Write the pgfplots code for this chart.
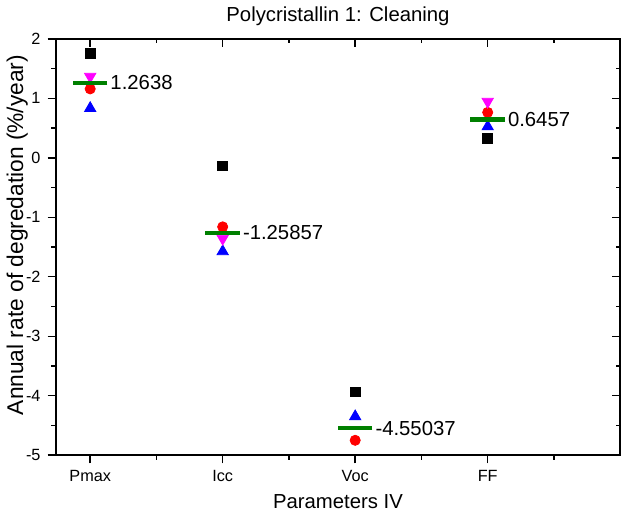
\documentclass[border=0pt]{standalone}
\usepackage{fontspec}
\setmainfont{Liberation Sans}
\usepackage{pgfplots}
\pgfplotsset{compat=1.18}

\definecolor{ogreen}{RGB}{0,128,0}
\definecolor{omag}{RGB}{255,0,255}
\definecolor{ored}{RGB}{255,0,0}
\definecolor{oblue}{RGB}{0,0,255}

\pgfplotsset{
  frame/.style={
    width=278pt, height=205pt, scale only axis,
    xmin=0.74, xmax=5, ymin=-5, ymax=2,
    xtick={1,2,3,4}, minor xtick={1.5,2.5,3.5,4.5},
    ytick={-5,...,2}, minor ytick={-4.5,-3.5,...,1.5},
    major tick length=4pt, minor tick length=2.2pt,
    every tick/.style={black, line width=0.7pt},
    axis line style={line width=0.8pt},
  },
}

\begin{document}
\begin{tikzpicture}
\begin{axis}[
  frame,
  tick align=outside,
  xtick pos=left, ytick pos=left,
  xticklabels={Pmax,Icc,Voc,FF},
  /pgf/number format/assume math mode=true,
  ticklabel style={font=\fontsize{8}{9.6}\selectfont},
  title={Polycristallin 1: Cleaning},
  title style={font=\fontsize{10}{12}\selectfont, at={(axis description cs:0.5,1)}, anchor=south, yshift=-3pt},
  xlabel={Parameters IV},
  xlabel style={font=\fontsize{10}{12}\selectfont, at={(axis description cs:0.5,0)}, anchor=center, yshift=-23pt},
  ylabel={Annual rate of degredation (\%/year)},
  ylabel style={font=\fontsize{11.2}{13}\selectfont, at={(axis description cs:-0.068,0.529)}, anchor=center, rotate=0},
  clip=false,
]
% sample 1
\addplot[only marks, mark=square*, mark size=2.4pt, black] coordinates {
  (1,1.756) (2,-0.134) (3,-3.936) (4,0.322)
};
% sample 2
\addplot[only marks, mark=*, mark size=2.5pt, ored] coordinates {
  (1,1.160) (2,-1.160) (3,-4.750) (4,0.765)
};
% sample 3
\addplot[only marks, mark=triangle*, mark size=3.2pt, oblue] coordinates {
  (1,0.834) (2,-1.574) (3,-4.350) (4,0.526)
};
% sample 4
\addplot[only marks, mark=triangle*, mark size=3.2pt, omag, mark options={rotate=180}] coordinates {
  (1,1.367) (2,-1.357) (4,0.947)
};
% median
\addplot[only marks, mark=-, mark size=8.5pt, ogreen,
  mark options={line width=2pt},
  nodes near coords, point meta=explicit symbolic,
  nodes near coords style={anchor=west, xshift=8.5pt, inner sep=0.5pt, text=black,
    font=\fontsize{10}{12}\selectfont}]
  table[meta=label] {
x y label
1 1.2638 1.2638
2 -1.25857 -1.25857
3 -4.55037 -4.55037
4 0.6457 0.6457
};
\end{axis}
\begin{scope}[overlay]
\begin{axis}[
  frame,
  tick align=inside,
  xtick pos=right, ytick pos=right,
  xticklabels={}, yticklabels={},
]
\end{axis}
\end{scope}
\end{tikzpicture}
\end{document}
